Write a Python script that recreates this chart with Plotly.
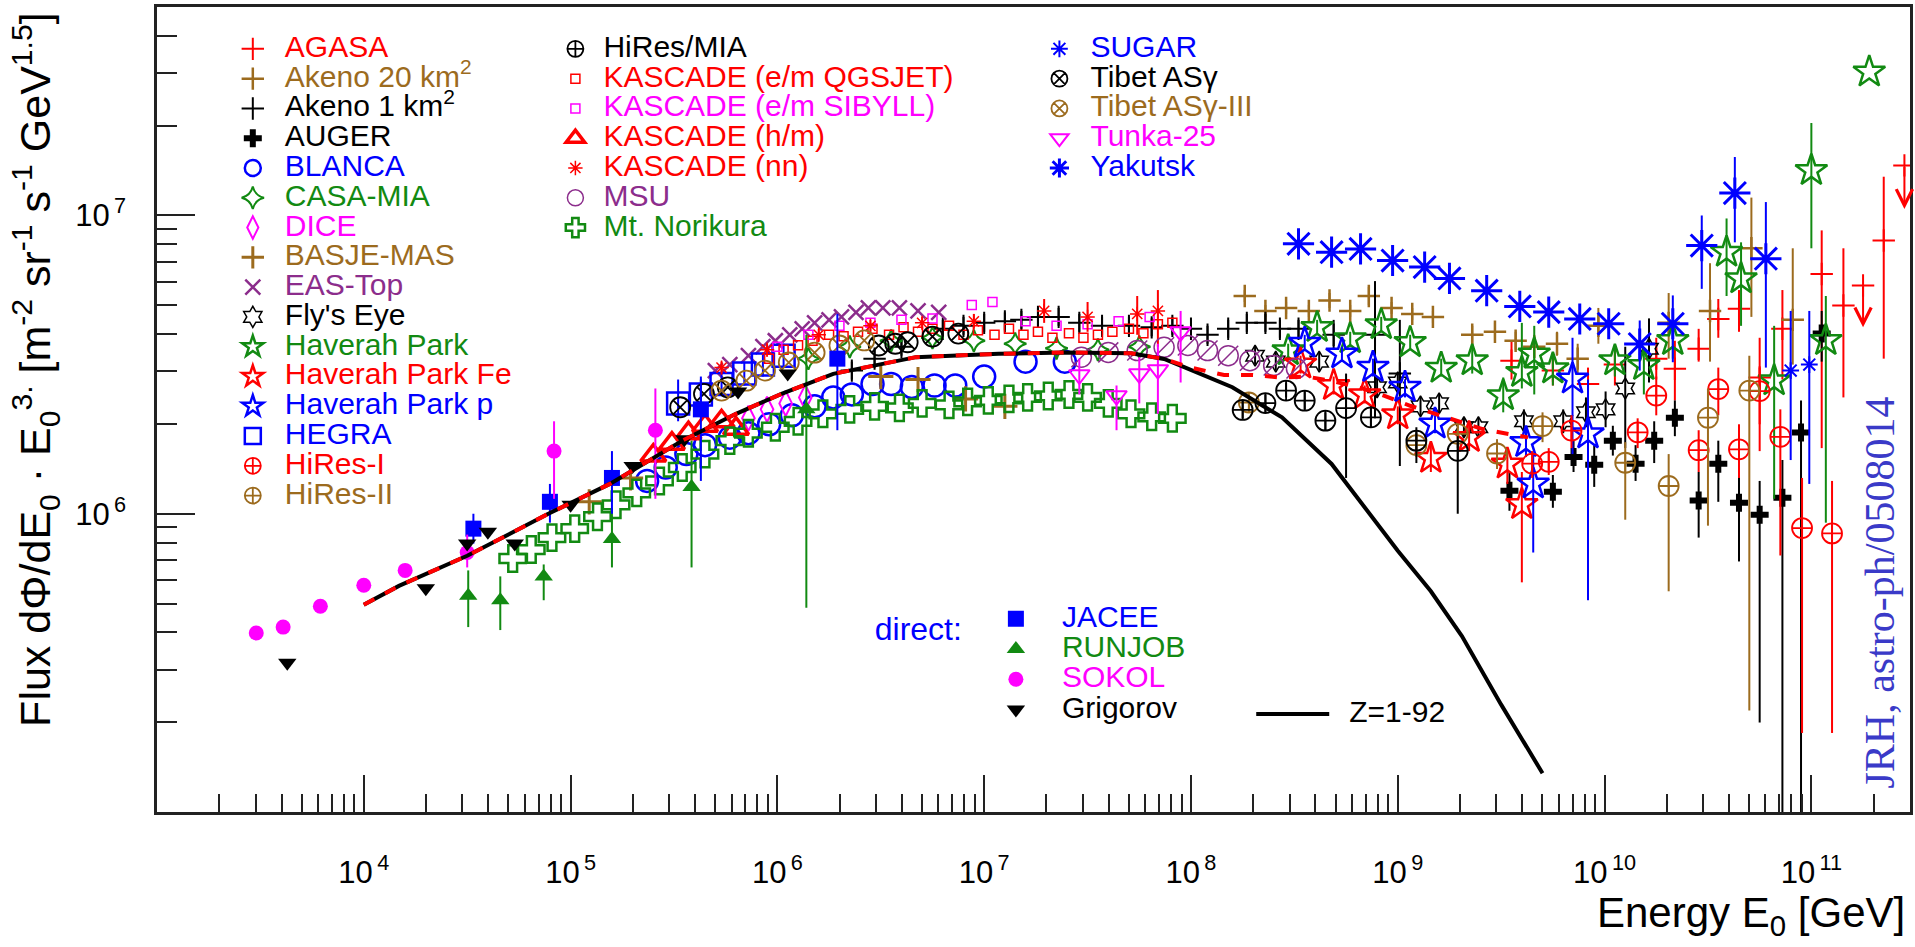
import numpy as np
import plotly.graph_objects as go

# ---------------- data: log10(E0 / GeV) and log10(flux * E0^...) ----------------
AGASA_lgE = [9.55, 9.75, 9.92, 10.05, 10.25, 10.34, 10.455, 10.55, 10.65, 10.75, 10.86, 11.05, 11.155, 11.35]
AGASA_lgF = [6.513, 6.48, 6.435, 6.50, 6.52, 6.486, 6.553, 6.653, 6.687, 6.457, 6.62, 6.804, 6.698, 6.916]
AGASA_up = [6.58, 6.53, 6.49, 6.56, 6.59, 6.58, 6.62, 6.72, 6.75, 6.59, 6.75, 6.95, 6.89, 7.13]
AGASA_dn = [6.45, 6.43, 6.38, 6.43, 6.45, 6.38, 6.51, 6.59, 6.61, 6.21, 6.45, 6.22, 6.39, 6.52]
AGASA_lim_lgE = [11.25, 11.45]
AGASA_lim_lgF = [6.765, 7.168]
AGASA_lim_to = [6.625, 7.022]

AK20_lgE = [8.26, 8.36, 8.46, 8.57, 8.67, 8.77, 8.86, 8.97, 9.07, 9.17, 9.36, 9.47, 9.57, 9.66, 9.77, 9.87, 9.97, 10.31, 10.51, 10.71, 10.91]
AK20_lgF = [6.73, 6.68, 6.69, 6.68, 6.715, 6.68, 6.73, 6.69, 6.67, 6.66, 6.60, 6.61, 6.58, 6.56, 6.57, 6.52, 6.63, 6.64, 6.68, 6.89, 6.65]
AK20_up = [6.75, 6.70, 6.71, 6.70, 6.74, 6.70, 6.76, 6.71, 6.69, 6.68, 6.63, 6.64, 6.61, 6.60, 6.61, 6.57, 6.69, 6.74, 6.84, 7.06, 6.89]
AK20_dn = [6.71, 6.66, 6.67, 6.66, 6.69, 6.66, 6.70, 6.67, 6.65, 6.64, 6.57, 6.58, 6.55, 6.52, 6.53, 6.47, 6.57, 6.52, 6.51, 6.66, 6.50]

AK1_lgE = [6.36, 6.47, 6.60, 6.80, 6.90, 7.00, 7.10, 7.18, 7.26, 7.36, 7.46, 7.57, 7.70, 7.81, 7.91, 8.00, 8.08, 8.18, 8.27, 8.36, 8.43, 8.52, 8.69, 8.89, 9.01]
AK1_lgF = [6.48, 6.52, 6.56, 6.62, 6.63, 6.64, 6.645, 6.65, 6.66, 6.66, 6.64, 6.63, 6.63, 6.625, 6.63, 6.62, 6.60, 6.62, 6.64, 6.64, 6.62, 6.62, 6.60, 6.60, 6.47]
AK1_up = [6.51, 6.55, 6.59, 6.65, 6.66, 6.67, 6.675, 6.68, 6.69, 6.69, 6.67, 6.66, 6.66, 6.655, 6.66, 6.65, 6.63, 6.65, 6.67, 6.67, 6.65, 6.65, 6.65, 6.78, 6.65]
AK1_dn = [6.45, 6.49, 6.53, 6.59, 6.60, 6.61, 6.615, 6.62, 6.63, 6.63, 6.61, 6.60, 6.60, 6.595, 6.60, 6.59, 6.57, 6.59, 6.61, 6.61, 6.59, 6.59, 6.55, 6.32, 6.16]

AUGER_lgE = [9.54, 9.75, 9.85, 9.95, 10.04, 10.15, 10.24, 10.34, 10.455, 10.55, 10.65, 10.75, 10.86, 10.95, 11.05]
AUGER_lgF = [6.077, 6.074, 6.19, 6.164, 6.245, 6.168, 6.245, 6.322, 6.044, 6.168, 6.037, 5.997, 6.054, 6.272, 6.604]
AUGER_up = [6.14, 6.13, 6.245, 6.23, 6.295, 6.23, 6.31, 6.38, 6.14, 6.245, 6.14, 6.11, 6.18, 6.38, 6.68]
AUGER_dn = [6.01, 6.02, 6.14, 6.09, 6.195, 6.11, 6.17, 6.26, 5.92, 6.04, 5.84, 5.30, 4.90, 4.90, 6.51]

BLANCA_lgE = [5.37, 5.46, 5.56, 5.65, 5.77, 5.86, 5.96, 6.07, 6.18, 6.27, 6.36, 6.46, 6.55, 6.65, 6.76, 6.86, 7.00, 7.20, 7.39]
BLANCA_lgF = [6.11, 6.155, 6.20, 6.23, 6.255, 6.27, 6.30, 6.33, 6.36, 6.39, 6.40, 6.435, 6.435, 6.425, 6.43, 6.43, 6.46, 6.51, 6.51]

CASA_lgE = [6.15, 6.35, 6.55, 6.75, 6.95, 7.15, 7.35, 7.55, 7.75]
CASA_lgF = [6.52, 6.56, 6.58, 6.59, 6.58, 6.57, 6.555, 6.55, 6.56]

DICE_lgE = [5.86, 5.95, 6.04, 6.135]
DICE_lgF = [6.32, 6.35, 6.37, 6.39]

BASJE_lgE = [5.09, 5.29, 6.50, 6.68, 6.91, 7.10]
BASJE_lgF = [6.04, 6.12, 6.46, 6.45, 6.385, 6.36]

EAS_lgE = [5.70, 5.77, 5.86, 5.93, 5.99, 6.06, 6.12, 6.18, 6.25, 6.31, 6.38, 6.44, 6.51, 6.59, 6.68, 6.78]
EAS_lgF = [6.48, 6.50, 6.53, 6.56, 6.58, 6.60, 6.62, 6.64, 6.65, 6.66, 6.675, 6.69, 6.69, 6.69, 6.68, 6.675]

FLY_lgE = [8.31, 8.41, 8.62, 8.90, 9.00, 9.11, 9.20, 9.32, 9.39, 9.61, 9.80, 9.91, 10.005, 10.10, 10.215]
FLY_lgF = [6.53, 6.51, 6.51, 6.424, 6.44, 6.36, 6.37, 6.29, 6.29, 6.31, 6.31, 6.34, 6.35, 6.42, 6.553]
FLY_up = [6.56, 6.54, 6.54, 6.454, 6.47, 6.39, 6.40, 6.32, 6.32, 6.35, 6.35, 6.39, 6.41, 6.56, 6.655]
FLY_dn = [6.50, 6.48, 6.48, 6.394, 6.41, 6.33, 6.34, 6.26, 6.26, 6.27, 6.27, 6.29, 6.29, 6.22, 6.44]

HP_lgE = [8.47, 8.61, 8.77, 8.92, 9.06, 9.21, 9.36, 9.51, 9.60, 9.66, 9.75, 10.05, 10.19, 10.33, 10.59, 10.66, 10.82, 11.00, 11.07, 11.28]
HP_lgF = [6.547, 6.625, 6.587, 6.634, 6.574, 6.488, 6.513, 6.396, 6.474, 6.536, 6.486, 6.513, 6.497, 6.581, 6.877, 6.788, 6.446, 7.151, 6.581, 7.481]
HP_up = [6.57, 6.65, 6.61, 6.66, 6.60, 6.52, 6.56, 6.457, 6.64, 6.63, 6.54, 6.56, 6.55, 6.64, 6.99, 6.91, 6.63, 7.31, 6.73, 7.481]
HP_dn = [6.52, 6.60, 6.56, 6.61, 6.55, 6.46, 6.47, 6.34, 6.42, 6.40, 6.43, 6.46, 6.40, 6.52, 6.73, 6.63, 6.05, 6.89, 5.97, 7.481]

HPFE_lgE = [8.53, 8.69, 8.84, 9.00, 9.16, 9.345, 9.53, 9.60]
HPFE_lgF = [6.502, 6.43, 6.399, 6.332, 6.186, 6.256, 6.167, 6.031]
HPFE_up = [6.53, 6.46, 6.43, 6.36, 6.23, 6.30, 6.22, 6.14]
HPFE_dn = [6.47, 6.40, 6.37, 6.30, 6.14, 6.21, 6.10, 5.77]

HPP_lgE = [8.55, 8.73, 8.88, 9.035, 9.18, 9.62, 9.655, 9.845, 9.92]
HPP_lgF = [6.572, 6.536, 6.491, 6.424, 6.301, 6.239, 6.10, 6.452, 6.268]
HPP_up = [6.60, 6.56, 6.52, 6.45, 6.33, 6.29, 6.20, 6.59, 6.45]
HPP_dn = [6.55, 6.51, 6.46, 6.39, 6.27, 6.19, 5.87, 6.20, 5.71]

HEGRA_lgE = [5.52, 5.63, 5.73, 5.84, 5.93, 6.03]
HEGRA_lgF = [6.37, 6.40, 6.435, 6.47, 6.50, 6.53]
HEGRA_up = [6.45, 6.45, 6.47, 6.51, 6.54, 6.57]
HEGRA_dn = [6.31, 6.35, 6.40, 6.43, 6.46, 6.49]

HR1_lgE = [9.65, 9.73, 9.84, 10.16, 10.25, 10.455, 10.55, 10.65, 10.75, 10.85, 10.955, 11.10]
HR1_lgF = [6.168, 6.174, 6.279, 6.273, 6.396, 6.213, 6.418, 6.216, 6.411, 6.258, 5.952, 5.934]
HR1_up = [6.21, 6.22, 6.33, 6.32, 6.46, 6.28, 6.49, 6.30, 6.49, 6.35, 6.12, 6.11]
HR1_dn = [6.12, 6.13, 6.22, 6.22, 6.33, 6.14, 6.33, 6.12, 6.30, 5.86, 5.265, 5.265]

HR2_lgE = [8.28, 9.09, 9.29, 9.48, 9.70, 10.10, 10.31, 10.50, 10.70]
HR2_lgF = [6.373, 6.23, 6.268, 6.202, 6.294, 6.171, 6.093, 6.322, 6.413]
HR2_up = [6.40, 6.27, 6.31, 6.25, 6.34, 6.24, 6.20, 6.42, 6.53]
HR2_dn = [6.34, 6.19, 6.22, 6.15, 6.24, 5.98, 5.74, 5.96, 5.34]

HRMIA_lgE = [8.25, 8.36, 8.46, 8.55, 8.65, 8.75, 8.87, 9.09, 9.29]
HRMIA_lgF = [6.348, 6.371, 6.413, 6.379, 6.312, 6.354, 6.323, 6.245, 6.211]
HRMIA_up = [6.38, 6.40, 6.44, 6.41, 6.34, 6.47, 6.36, 6.29, 6.26]
HRMIA_dn = [6.32, 6.34, 6.39, 6.35, 6.28, 6.12, 6.29, 6.17, 6.00]

KQGS_lgE = [5.96, 6.03, 6.10, 6.17, 6.25, 6.32, 6.39, 6.46, 6.54, 6.61, 6.68, 6.75, 6.83, 6.90, 6.97, 7.05, 7.12, 7.19, 7.26, 7.33, 7.41, 7.48, 7.55, 7.62, 7.70, 7.77, 7.84, 7.91]
KQGS_lgF = [6.52, 6.55, 6.565, 6.58, 6.60, 6.595, 6.61, 6.62, 6.60, 6.625, 6.61, 6.62, 6.63, 6.60, 6.615, 6.60, 6.62, 6.60, 6.61, 6.59, 6.605, 6.59, 6.60, 6.61, 6.62, 6.605, 6.635, 6.64]

KSIB_lgE = [6.00, 6.15, 6.30, 6.45, 6.60, 6.75, 6.94, 7.04, 7.20, 7.35, 7.50, 7.65, 7.80]
KSIB_lgF = [6.56, 6.60, 6.63, 6.64, 6.65, 6.655, 6.70, 6.71, 6.645, 6.63, 6.635, 6.645, 6.66]

KHM_lgE = [5.40, 5.49, 5.57, 5.65, 5.73, 5.80]
KHM_lgF = [6.195, 6.235, 6.27, 6.295, 6.31, 6.285]

KNN_lgE = [5.73, 5.95, 6.20, 6.45, 6.70, 6.95, 7.29, 7.50, 7.74, 7.84]
KNN_lgF = [6.49, 6.55, 6.60, 6.63, 6.64, 6.645, 6.68, 6.66, 6.67, 6.68]
KNN_up = [6.51, 6.57, 6.62, 6.65, 6.66, 6.67, 6.72, 6.71, 6.73, 6.75]
KNN_dn = [6.47, 6.53, 6.58, 6.61, 6.62, 6.62, 6.64, 6.61, 6.60, 6.56]

MSU_lgE = [7.47, 7.60, 7.74, 7.87, 7.985, 8.08, 8.18, 8.285, 8.40, 8.51]
MSU_lgF = [6.525, 6.541, 6.547, 6.558, 6.564, 6.547, 6.53, 6.513, 6.497, 6.487]

NORI_lgE = [4.72, 4.81, 4.91, 5.02, 5.13, 5.22, 5.32, 5.43, 5.54, 5.65, 5.77, 5.86, 5.99, 6.10, 6.22, 6.35,
            6.47, 6.59, 6.70, 6.83, 6.92, 7.02, 7.12, 7.21, 7.31, 7.41, 7.50, 7.60, 7.71, 7.81, 7.91]
NORI_lgF = [5.85, 5.88, 5.92, 5.95, 5.99, 6.03, 6.07, 6.11, 6.155, 6.20, 6.245, 6.27, 6.29, 6.31, 6.335, 6.35,
            6.36, 6.355, 6.37, 6.365, 6.375, 6.38, 6.385, 6.39, 6.395, 6.40, 6.39, 6.37, 6.335, 6.325, 6.32]

SUGAR_lgE = [10.90, 10.99]
SUGAR_lgF = [6.48, 6.50]
SUGAR_up = [6.68, 6.68]
SUGAR_dn = [6.18, 6.10]

TIB_lgE = [5.53, 5.645, 5.76, 6.49, 6.57, 6.63, 6.75, 6.875]
TIB_lgF = [6.357, 6.402, 6.424, 6.564, 6.57, 6.575, 6.594, 6.604]

TIB3_lgE = [5.73, 5.85, 5.94, 6.055, 6.18, 6.30, 6.42]
TIB3_lgF = [6.413, 6.446, 6.48, 6.507, 6.54, 6.564, 6.581]

TUNKA_lgE = [7.46, 7.64, 7.75, 7.84, 7.95]
TUNKA_lgF = [6.466, 6.396, 6.469, 6.483, 6.61]
TUNKA_up = [6.52, 6.43, 6.525, 6.57, 6.68]
TUNKA_dn = [6.40, 6.28, 6.37, 6.335, 6.44]

YAK_lgE = [8.52, 8.68, 8.82, 8.975, 9.13, 9.25, 9.43, 9.59, 9.73, 9.88, 10.02, 10.17, 10.33, 10.47, 10.63, 10.78]
YAK_lgF = [6.905, 6.877, 6.888, 6.849, 6.827, 6.789, 6.748, 6.695, 6.676, 6.653, 6.637, 6.569, 6.637, 6.899, 7.075, 6.855]
YAK_up = [6.915, 6.887, 6.898, 6.859, 6.837, 6.80, 6.76, 6.71, 6.69, 6.67, 6.66, 6.648, 6.732, 7.00, 7.196, 7.045]
YAK_dn = [6.895, 6.867, 6.878, 6.839, 6.817, 6.78, 6.735, 6.68, 6.66, 6.635, 6.615, 6.48, 6.508, 6.754, 6.91, 6.49]

# direct measurements
JACEE_lgE = [4.53, 4.90, 5.20, 5.63, 6.29]
JACEE_lgF = [5.95, 6.04, 6.12, 6.35, 6.52]
JACEE_up = [6.00, 6.10, 6.21, 6.46, 6.67]
JACEE_dn = [5.90, 5.97, 6.00, 6.11, 6.28]

RUNJOB_lgE = [4.505, 4.66, 4.87, 5.20, 5.585, 6.14]
RUNJOB_lgF = [5.725, 5.71, 5.79, 5.915, 6.09, 6.35]
RUNJOB_up = [5.81, 5.79, 5.83, 5.99, 6.245, 6.60]
RUNJOB_dn = [5.62, 5.61, 5.71, 5.82, 5.82, 5.685]

SOKOL_lgE = [3.48, 3.61, 3.79, 4.00, 4.20, 4.50, 4.92, 5.41]
SOKOL_lgF = [5.60, 5.62, 5.69, 5.76, 5.81, 5.87, 6.21, 6.28]
SOKOL_up = [5.60, 5.62, 5.69, 5.76, 5.81, 5.93, 6.31, 6.42]
SOKOL_dn = [5.60, 5.62, 5.69, 5.76, 5.81, 5.82, 6.05, 6.05]

GRIG_lgE = [3.63, 4.30, 4.50, 4.60, 4.73, 5.00, 5.30, 5.55, 5.81, 6.05]
GRIG_lgF = [5.50, 5.75, 5.90, 5.94, 5.90, 6.03, 6.16, 6.25, 6.41, 6.47]

# model curves
Z92_lgE = [4.00, 4.17, 4.50, 4.89, 5.19, 5.54, 5.80, 6.02, 6.27, 6.51, 6.67, 7.07, 7.39, 7.71, 7.87, 7.97,
           8.20, 8.44, 8.68, 9.00, 9.16, 9.31, 9.50, 9.70]
Z92_lgF = [5.695, 5.758, 5.859, 5.999, 6.10, 6.245, 6.335, 6.402, 6.469, 6.502, 6.525, 6.536, 6.541, 6.538, 6.519, 6.491,
           6.424, 6.323, 6.167, 5.876, 5.74, 5.59, 5.36, 5.13]
SUM_lgE = [4.00, 4.17, 4.50, 4.89, 5.19, 5.54, 5.80, 6.02, 6.27, 6.51, 6.67, 7.07, 7.39, 7.71, 7.87,
           8.00, 8.16, 8.30, 8.43, 8.56, 8.68, 8.81, 8.91, 9.06, 9.18, 9.31, 9.41, 9.54, 9.63]
SUM_lgF = [5.695, 5.758, 5.859, 5.999, 6.10, 6.245, 6.335, 6.402, 6.469, 6.502, 6.525, 6.536, 6.541, 6.538, 6.519,
           6.49, 6.465, 6.465, 6.457, 6.46, 6.445, 6.424, 6.402, 6.362, 6.335, 6.306, 6.284, 6.267, 6.256]

X_TICK_EXP = [4, 5, 6, 7, 8, 9, 10, 11]
Y_TICK_EXP = [6, 7]

# ---------------- styling ----------------
RED = "#ff0000"
BROWN = "#9c6b1e"
BLACK = "#000000"
BLUE = "#0000ff"
GREEN = "#128a12"
MAG = "#ff00ff"
PURP = "#8c2d8c"
FONT = "Liberation Sans"

fig = go.Figure()


def lab(text, color):
    return f'<span style="color:{color};font-size:30px">{text}</span>'


def series(name, color, symbol, size, lw, lgE, lgF, up=None, dn=None, legend="legend",
           showlegend=True, filled=False):
    x = np.power(10.0, np.asarray(lgE, float))
    y = np.power(10.0, np.asarray(lgF, float))
    mk = dict(symbol=symbol, size=size, color=color,
              line=dict(width=0 if filled else lw, color=color))
    tr = dict(x=x, y=y, mode="markers", name=name, legend=legend, showlegend=showlegend,
              marker=mk, hoverinfo="skip")
    if up is not None:
        tr["error_y"] = dict(type="data", symmetric=False,
                             array=np.power(10.0, np.asarray(up, float)) - y,
                             arrayminus=y - np.power(10.0, np.asarray(dn, float)),
                             thickness=2, width=0, color=color)
    fig.add_trace(go.Scatter(**tr))


# column 1 legend
series(lab("AGASA", RED), RED, "cross-thin-open", 16, 2, AGASA_lgE, AGASA_lgF, AGASA_up, AGASA_dn)
series(lab("Akeno 20 km<sup>2</sup>", BROWN), BROWN, "cross-thin-open", 16, 2.5, AK20_lgE, AK20_lgF, AK20_up, AK20_dn)
series(lab("Akeno 1 km<sup>2</sup>", BLACK), BLACK, "cross-thin-open", 16, 2, AK1_lgE, AK1_lgF, AK1_up, AK1_dn)
series(lab("AUGER", BLACK), BLACK, "cross", 15, 0, AUGER_lgE, AUGER_lgF, AUGER_up, AUGER_dn, filled=True)
series(lab("BLANCA", BLUE), BLUE, "circle-open", 22, 2.5, BLANCA_lgE, BLANCA_lgF)
series(lab("CASA-MIA", GREEN), GREEN, "star-diamond-open", 16, 2, CASA_lgE, CASA_lgF)
series(lab("DICE", MAG), MAG, "diamond-tall-open", 18, 2, DICE_lgE, DICE_lgF)
series(lab("BASJE-MAS", BROWN), BROWN, "cross-thin-open", 18, 3, BASJE_lgE, BASJE_lgF)
series(lab("EAS-Top", PURP), PURP, "x-thin-open", 15, 2.5, EAS_lgE, EAS_lgF)
series(lab("Fly's Eye", BLACK), BLACK, "hexagram-open", 16, 1.5, FLY_lgE, FLY_lgF, FLY_up, FLY_dn)
series(lab("Haverah Park", GREEN), GREEN, "star-open", 24, 2.5, HP_lgE, HP_lgF, HP_up, HP_dn)
series(lab("Haverah Park Fe", RED), RED, "star-open", 24, 2.5, HPFE_lgE, HPFE_lgF, HPFE_up, HPFE_dn)
series(lab("Haverah Park p", BLUE), BLUE, "star-open", 24, 2.5, HPP_lgE, HPP_lgF, HPP_up, HPP_dn)
series(lab("HEGRA", BLUE), BLUE, "square-open", 22, 2.5, HEGRA_lgE, HEGRA_lgF, HEGRA_up, HEGRA_dn)
series(lab("HiRes-I", RED), RED, "circle-cross-open", 20, 1.8, HR1_lgE, HR1_lgF, HR1_up, HR1_dn)
series(lab("HiRes-II", BROWN), BROWN, "circle-cross-open", 20, 1.8, HR2_lgE, HR2_lgF, HR2_up, HR2_dn)

# column 2 legend
series(lab("HiRes/MIA", BLACK), BLACK, "circle-cross-open", 20, 1.8, HRMIA_lgE, HRMIA_lgF, HRMIA_up, HRMIA_dn, legend="legend2")
series(lab("KASCADE (e/m QGSJET)", RED), RED, "square-open", 9, 1.5, KQGS_lgE, KQGS_lgF, legend="legend2")
series(lab("KASCADE (e/m SIBYLL)", MAG), MAG, "square-open", 9, 1.5, KSIB_lgE, KSIB_lgF, legend="legend2")
series(lab("KASCADE (h/m)", RED), RED, "triangle-up-open", 22, 3.5, KHM_lgE, KHM_lgF, legend="legend2")
series(lab("KASCADE (nn)", RED), RED, "asterisk-open", 12, 1.5, KNN_lgE, KNN_lgF, KNN_up, KNN_dn, legend="legend2")
series(lab("MSU", PURP), PURP, "circle-open", 20, 1.5, MSU_lgE, MSU_lgF, legend="legend2")
series("MSU slash", PURP, "line-ne-open", 20, 1.5, MSU_lgE, MSU_lgF, legend="legend2", showlegend=False)
series(lab("Mt. Norikura", GREEN), GREEN, "cross-open", 22, 2.5, NORI_lgE, NORI_lgF, legend="legend2")

# column 3 legend
series(lab("SUGAR", BLUE), BLUE, "asterisk-open", 14, 2, SUGAR_lgE, SUGAR_lgF, SUGAR_up, SUGAR_dn, legend="legend3")
series(lab("Tibet AS\u03b3", BLACK), BLACK, "circle-x-open", 20, 1.8, TIB_lgE, TIB_lgF, legend="legend3")
series(lab("Tibet AS\u03b3-III", BROWN), BROWN, "circle-x-open", 20, 1.8, TIB3_lgE, TIB3_lgF, legend="legend3")
series(lab("Tunka-25", MAG), MAG, "triangle-down-open", 18, 2, TUNKA_lgE, TUNKA_lgF, TUNKA_up, TUNKA_dn, legend="legend3")
series(lab("Yakutsk", BLUE), BLUE, "asterisk-open", 26, 3, YAK_lgE, YAK_lgF, YAK_up, YAK_dn, legend="legend3")

# direct measurements legend
series(lab("JACEE", BLUE), BLUE, "square", 16, 0, JACEE_lgE, JACEE_lgF, JACEE_up, JACEE_dn, legend="legend4", filled=True)
series(lab("RUNJOB", GREEN), GREEN, "triangle-up", 16, 0, RUNJOB_lgE, RUNJOB_lgF, RUNJOB_up, RUNJOB_dn, legend="legend4", filled=True)
series(lab("SOKOL", MAG), MAG, "circle", 15, 0, SOKOL_lgE, SOKOL_lgF, SOKOL_up, SOKOL_dn, legend="legend4", filled=True)
series(lab("Grigorov", BLACK), BLACK, "triangle-down", 16, 0, GRIG_lgE, GRIG_lgF, legend="legend4", filled=True)

# upper limits of AGASA (marker + downward arrow)
series("AGASA limits", RED, "cross-thin-open", 16, 2, AGASA_lim_lgE, AGASA_lim_lgF, showlegend=False)
for e, f, t in zip(AGASA_lim_lgE, AGASA_lim_lgF, AGASA_lim_to):
    fig.add_annotation(x=e, y=t, ax=e, ay=f, xref="x", yref="y", axref="x", ayref="y",
                       text="", showarrow=True, arrowhead=5, arrowsize=1.6, arrowwidth=2, arrowcolor=RED)

# model lines
fig.add_trace(go.Scatter(x=np.power(10.0, np.asarray(Z92_lgE)), y=np.power(10.0, np.asarray(Z92_lgF)),
                         mode="lines", name='<span style="font-size:30px">\u2002Z=1-92</span>', legend="legend5",
                         line=dict(color=BLACK, width=4), hoverinfo="skip"))
fig.add_trace(go.Scatter(x=np.power(10.0, np.asarray(SUM_lgE)), y=np.power(10.0, np.asarray(SUM_lgF)),
                         mode="lines", showlegend=False, line=dict(color=RED, width=4, dash="dash"),
                         hoverinfo="skip"))

# ---------------- axes ----------------
TS = "\u2009"
x_major = [10.0 ** k for k in X_TICK_EXP]
x_text = [f"10<sup>{TS}{k}</sup>" for k in X_TICK_EXP]
x_minor = [m * 10.0 ** k for k in range(3, 12) for m in range(2, 10) if m * 10.0 ** k < 3.0e11]
y_major = [10.0 ** k for k in Y_TICK_EXP]
y_text = [f"10<sup>{TS}{k}</sup>" for k in Y_TICK_EXP]
y_minor = [m * 10.0 ** k for k in range(5, 8) for m in range(2, 10) if m * 10.0 ** k < 5.0e7]

AX = "#222222"
common = dict(type="log", showgrid=False, zeroline=False, showline=True, linecolor=AX, linewidth=2.5,
              mirror=True, ticks="inside", tickcolor=AX, tickwidth=2, tickmode="array",
              tickfont=dict(family=FONT, size=31, color="black"))
fig.update_xaxes(**common, range=[3.0, 11.477], tickvals=x_major, ticktext=x_text, ticklen=37,
                 ticklabelstandoff=31,
                 minor=dict(ticks="inside", ticklen=18, tickwidth=2, tickcolor=AX, tickmode="array",
                            tickvals=x_minor, showgrid=False))
fig.update_yaxes(**common, range=[5.0, 7.699], tickvals=y_major, ticktext=y_text, ticklen=38,
                 ticklabelstandoff=22,
                 minor=dict(ticks="inside", ticklen=20, tickwidth=2, tickcolor=AX, tickmode="array",
                            tickvals=y_minor, showgrid=False))

# ---------------- titles and texts ----------------
fig.add_annotation(xref="paper", yref="paper", x=-0.0695, y=0.996, xanchor="center", yanchor="top",
                   textangle=-90, showarrow=False,
                   text="Flux d\u03a6/dE<sub>0</sub> \u00b7 E<sub>0</sub><sup>3.</sup> "
                        "[m<sup>-2</sup> sr<sup>-1</sup> s<sup>-1</sup> GeV<sup>1.5</sup>]",
                   font=dict(family=FONT, size=43, color="black"))
fig.add_annotation(xref="paper", yref="paper", x=0.9983, y=-0.128, xanchor="right", yanchor="middle",
                   showarrow=False, text="Energy E<sub>0</sub> [GeV]",
                   font=dict(family=FONT, size=42, color="black"))
fig.add_annotation(xref="paper", yref="paper", x=0.9829, y=0.2727, xanchor="center", yanchor="middle",
                   textangle=-90, showarrow=False, text="JRH, astro-ph/0508014",
                   font=dict(family="Liberation Serif", size=42, color="#3a3ac8"))

leg_common = dict(xanchor="left", yanchor="top", bgcolor="rgba(0,0,0,0)", borderwidth=0,
                  font=dict(family=FONT, size=20.6, color="black"), tracegroupgap=0,
                  traceorder="normal", itemclick=False, itemdoubleclick=False)
fig.update_layout(
    width=1915, height=947,
    margin=dict(l=157, r=2, t=7, b=135),
    paper_bgcolor="white", plot_bgcolor="white",
    font=dict(family=FONT, color="black"),
    hovermode=False,
    showlegend=True,
    legend=dict(**leg_common, x=0.0364, y=0.9727, itemwidth=54),
    legend2=dict(**leg_common, x=0.2227, y=0.9727, itemwidth=46),
    legend3=dict(**leg_common, x=0.4971, y=0.9727, itemwidth=52),
    legend4=dict(**dict(leg_common, font=dict(family=FONT, size=21, color="black")),
                 x=0.4083, y=0.2652, itemwidth=82,
                 title=dict(text="direct:", side="left", font=dict(family=FONT, size=32, color=BLUE))),
    legend5=dict(**leg_common, x=0.6242, y=0.1466, itemwidth=73),
)

fig.write_html("out.html", config={"displayModeBar": False},
               post_script="document.body.style.margin='0';")
